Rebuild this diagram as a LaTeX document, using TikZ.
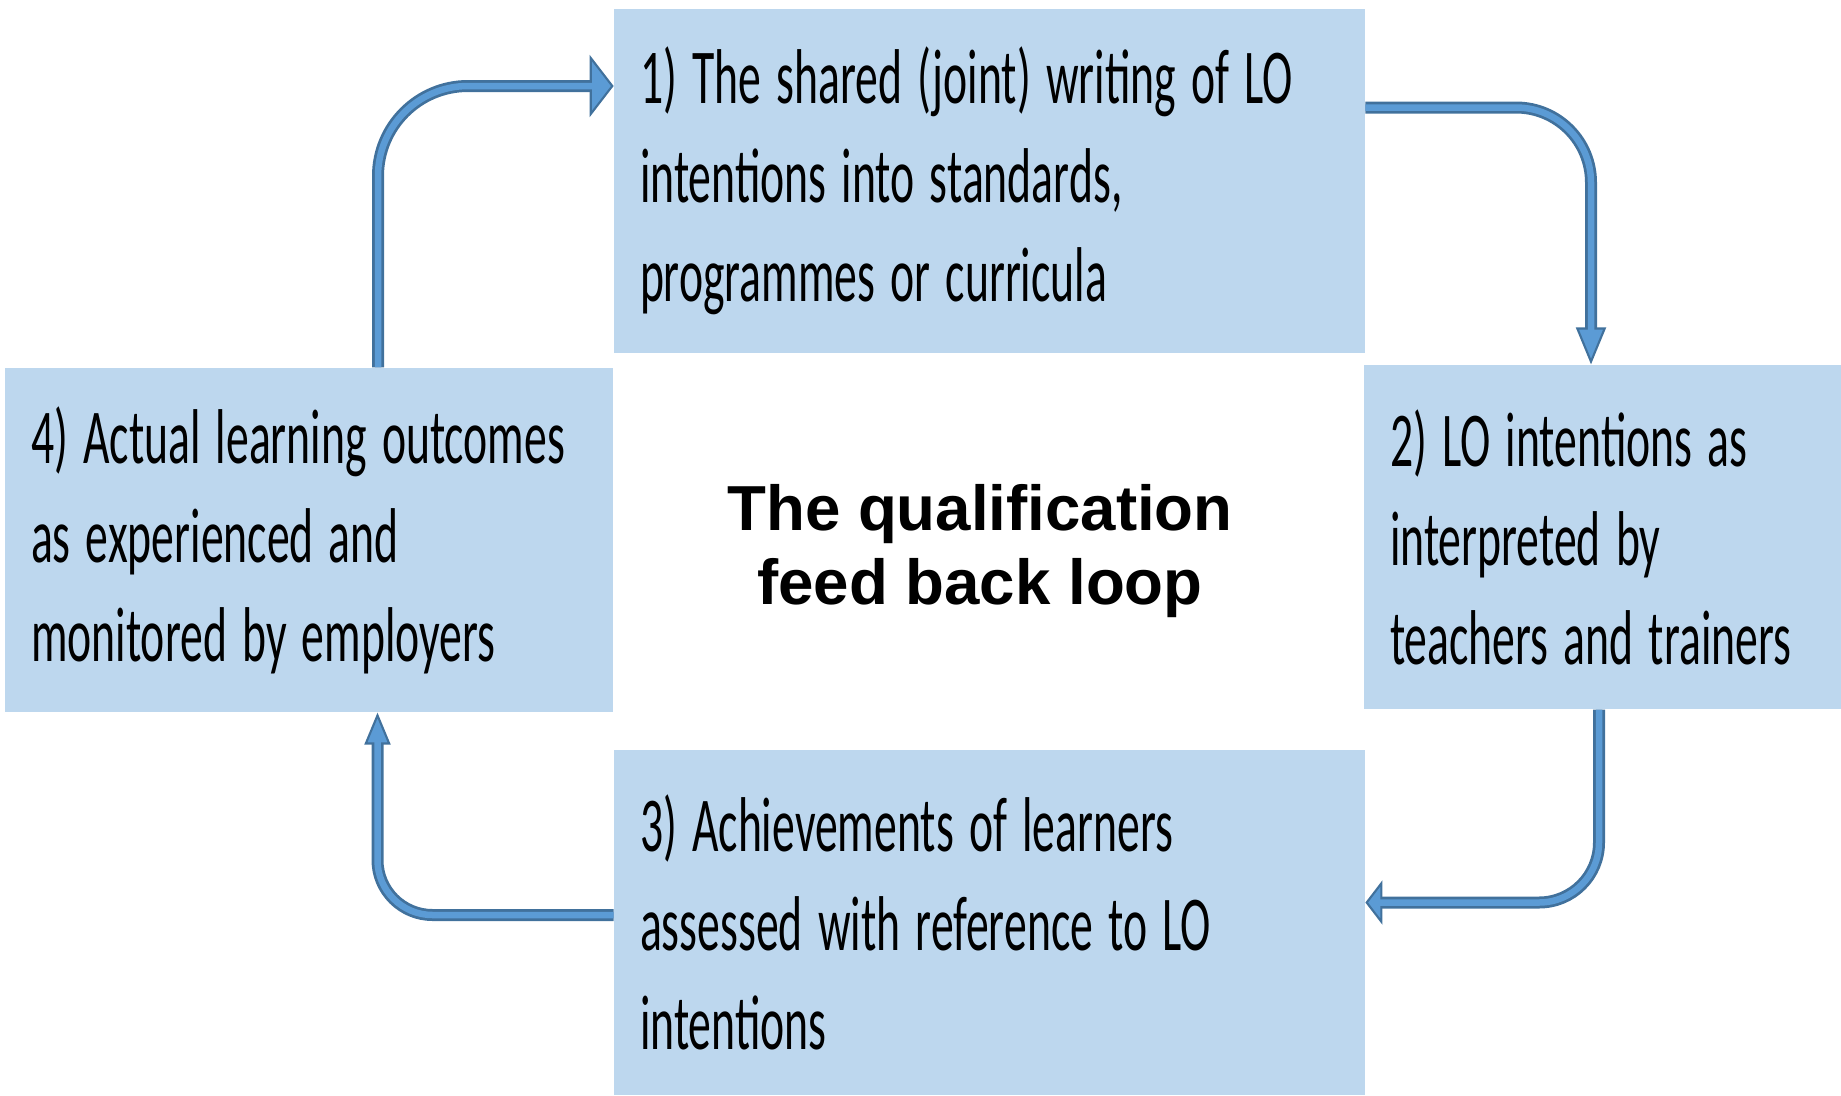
\documentclass[tikz,border=0pt]{standalone}
\usepackage{fontspec}
\usetikzlibrary{arrows.meta}
\newfontfamily\boxfont{Carlito}
\setsansfont{Liberation Sans}
\definecolor{boxblue}{RGB}{189,215,238}
\definecolor{arrowfill}{RGB}{91,155,213}
\definecolor{arrowline}{RGB}{65,113,156}

\begin{document}
\begin{tikzpicture}[
        box/.style={fill=boxblue, yscale=1.70, inner xsep=0.52cm, inner ysep=0pt,
                    minimum height=4.047cm, align=left,
                    font=\boxfont\fontsize{26pt}{33.1pt}\selectfont},
        flow/.style n args={2}{draw=arrowline, line width=0.24cm,
                    -{Triangle[length=#1, width=#2, line width=1.2pt, fill=arrowfill]},
                    postaction={draw=arrowfill, line width=0.13cm, -, shorten >=#1-1.5pt}}]
      \useasboundingbox (0,0) rectangle (36.82,-21.9);
      \node[box, text width=13.98cm] (write)   at (19.79,-3.62)  {1) The shared (joint) writing of LO\\intentions into standards,\\programmes or curricula};
      \node[box, text width=8.50cm]  (teach)   at (32.05,-10.74) {2) LO intentions as\\interpreted by\\teachers and trainers};
      \node[box, text width=13.98cm, minimum height=4.06cm] (assess) at (19.79,-18.45) {3) Achievements of learners\\assessed\ with reference to LO\\intentions};
      \node[box, text width=11.12cm] (employ)  at (6.18,-10.80)  {4) Actual learning outcomes\\as experienced and\\monitored by employers};
      \node[font=\sffamily\bfseries\fontsize{36.2pt}{42.1pt}\selectfont, align=center]
            (loop) at (19.6,-11.03) {The qualification\\feed back loop};
      \draw[flow={0.48cm}{1.24cm}, rounded corners=1.8cm]
            ([xshift=1.38cm]employ.north) |- ([yshift=1.9cm]write.west);
      \draw[flow={0.74cm}{0.6cm}, rounded corners=1.5cm]
            ([yshift=1.47cm]write.east) -| ([xshift=-0.23cm]teach.north);
      \draw[flow={0.34cm}{0.88cm}, rounded corners=1.2cm]
            ([xshift=-0.07cm]teach.south) |- ([yshift=0.4cm]assess.east);
      \draw[flow={0.64cm}{0.52cm}, rounded corners=1.1cm]
            ([yshift=0.15cm]assess.west) -| ([xshift=1.37cm]employ.south);
    \end{tikzpicture}
\end{document}
